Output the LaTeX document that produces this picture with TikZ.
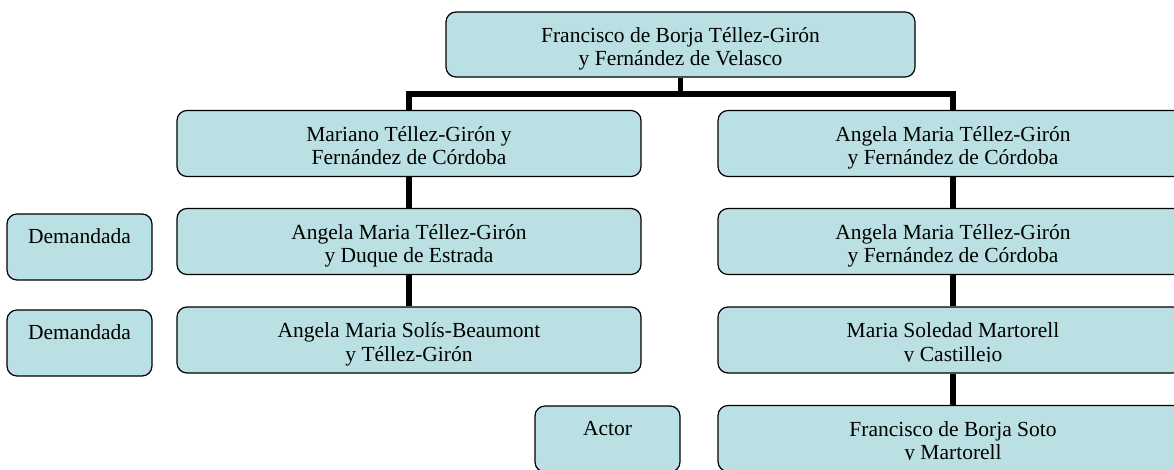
\documentclass[tikz,border=0pt]{standalone}
\usepackage{fontspec}
\setmainfont{Liberation Serif}
\usetikzlibrary{backgrounds}
\definecolor{boxfill}{RGB}{187,224,227}
\begin{document}
\begin{tikzpicture}[x=1pt,y=-1pt,
  box/.style 2 args={draw=black, line width=1.2pt, fill=boxfill, rounded corners=10pt,
    inner sep=0pt, minimum width=#1, minimum height=#2},
  txt/.style={anchor=base, inner sep=0pt, font=\fontsize{21.5}{23.5}\selectfont},
  conn/.style={draw=black, line width=5.5pt}]
\clip (0,0) rectangle (1174,469);
% boxes
\node[box={469pt}{65pt}] (b0) at (680.5,44.5) {};
\node[box={464pt}{66pt}] (bL1) at (409,143.5) {};
\node[box={470pt}{66pt}] (bR1) at (953,143.5) {};
\node[box={464pt}{66pt}] (bL2) at (409,241.5) {};
\node[box={470pt}{66pt}] (bR2) at (953,241.5) {};
\node[box={464pt}{66pt}] (bL3) at (409,340) {};
\node[box={470pt}{66pt}] (bR3) at (953,340) {};
\node[box={470pt}{66pt}] (bR4) at (953,438.5) {};
\node[box={145pt}{66pt}] (d1) at (79.5,247) {};
\node[box={145pt}{66pt}] (d2) at (79.5,343) {};
\node[box={145pt}{66pt}] (act) at (607.5,439) {};
% connectors (behind the boxes)
\begin{scope}[on background layer]
\draw[conn] (b0.south) -- ++(0,16.5) -| (bL1.north);
\draw[conn] (b0.south) -- ++(0,16.5) -| (bR1.north);
\draw[conn] (bL1.south) -- (bL2.north);
\draw[conn] (bL2.south) -- (bL3.north);
\draw[conn] (bR1.south) -- (bR2.north);
\draw[conn] (bR2.south) -- (bR3.north);
\draw[conn] (bR3.south) -- (bR4.north);
\end{scope}
% texts
\node[txt] (t0) at (680.5,42) {\begin{tabular}[t]{@{}c@{}}Francisco de Borja Téllez-Girón\\y Fernández de Velasco\end{tabular}};
\node[txt] (tL1) at (409,141) {\begin{tabular}[t]{@{}c@{}}Mariano Téllez-Girón y\\Fernández de Córdoba\end{tabular}};
\node[txt] (tR1) at (953,141) {\begin{tabular}[t]{@{}c@{}}Angela Maria Téllez-Girón\\y Fernández de Córdoba\end{tabular}};
\node[txt] (tL2) at (409,239) {\begin{tabular}[t]{@{}c@{}}Angela Maria Téllez-Girón\\y Duque de Estrada\end{tabular}};
\node[txt] (tR2) at (953,239) {\begin{tabular}[t]{@{}c@{}}Angela Maria Téllez-Girón\\y Fernández de Córdoba\end{tabular}};
\node[txt] (tL3) at (409,337.5) {\begin{tabular}[t]{@{}c@{}}Angela Maria Solís-Beaumont\\y Téllez-Girón\end{tabular}};
\begin{scope}
\clip (700,300) rectangle (1174,361);
\node[txt] (tR3) at (953,337.5) {\begin{tabular}[t]{@{}c@{}}Maria Soledad Martorell\\y Castillejo\end{tabular}};
\end{scope}
\begin{scope}
\clip (700,400) rectangle (1174,459.5);
\node[txt] (tR4) at (953,436) {\begin{tabular}[t]{@{}c@{}}Francisco de Borja Soto\\y Martorell\end{tabular}};
\end{scope}
\node[txt] (td1) at (79.5,243) {Demandada};
\node[txt] (td2) at (79.5,339) {Demandada};
\node[txt] (tact) at (607.5,435) {Actor};
\end{tikzpicture}
\end{document}
